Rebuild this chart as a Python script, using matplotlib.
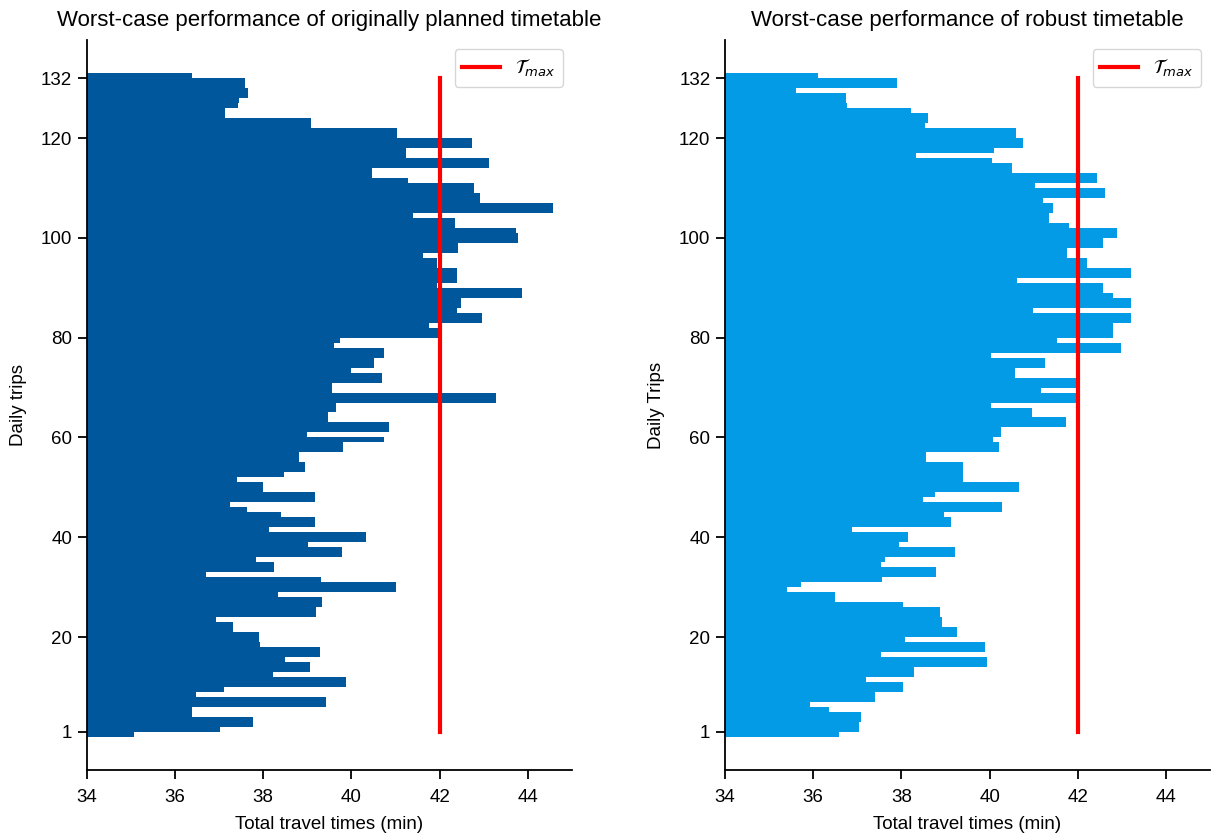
import numpy as np
import matplotlib
matplotlib.use("Agg")
import matplotlib.pyplot as plt

plt.rcParams["font.family"] = ["Liberation Sans", "DejaVu Sans"]

# worst-case total travel time per daily trip (min), bottom to top
planned = [
    35.07, 37.02, 37.77, 37.77, 36.38, 36.38, 39.42, 39.42, 36.48, 37.11,
    39.87, 39.87, 38.22, 39.06, 39.06, 38.49, 39.28, 39.28, 37.92, 37.90,
    37.90, 37.31, 37.31, 36.93, 39.19, 39.19, 39.33, 39.33, 38.33, 41.00,
    41.00, 39.31, 36.70, 38.24, 38.24, 37.83, 39.78, 39.78, 39.01, 40.32,
    40.32, 38.13, 39.17, 39.17, 38.40, 37.63, 37.25, 39.17, 39.17, 37.99,
    37.99, 37.40, 38.47, 38.94, 38.94, 38.81, 38.81, 39.80, 39.80, 40.73,
    38.99, 40.85, 40.85, 39.46, 39.46, 39.65, 39.65, 43.27, 43.27, 39.55,
    39.55, 40.69, 40.69, 39.99, 40.51, 40.51, 40.73, 40.73, 39.60, 39.74,
    42.00, 42.00, 41.75, 42.95, 42.95, 42.39, 42.48, 42.48, 43.86, 43.86,
    41.95, 42.39, 42.39, 42.39, 41.95, 41.95, 41.63, 42.41, 42.41, 43.78,
    43.78, 43.74, 42.34, 42.34, 41.39, 44.56, 44.56, 42.91, 42.91, 42.77,
    42.77, 41.28, 40.46, 40.46, 43.11, 43.11, 41.23, 41.23, 42.73, 42.73,
    41.03, 41.03, 39.08, 39.08, 37.13, 37.13, 37.43, 37.45, 37.65, 37.65,
    37.58, 37.58, 36.38,
]

robust = [
    36.58, 37.04, 37.04, 37.08, 37.08, 36.36, 35.93, 37.40, 37.40, 38.03,
    38.03, 37.20, 38.28, 38.28, 39.94, 39.94, 37.54, 39.89, 39.89, 38.08,
    39.26, 39.26, 38.92, 38.92, 38.87, 38.87, 38.03, 36.49, 36.49, 35.40,
    35.72, 37.56, 38.78, 38.78, 37.54, 37.63, 39.21, 39.21, 37.94, 38.15,
    38.15, 36.88, 39.12, 39.12, 38.96, 40.28, 40.28, 38.49, 38.76, 40.66,
    40.66, 39.39, 39.39, 39.39, 39.39, 38.55, 38.55, 40.21, 40.21, 40.07,
    40.25, 40.25, 41.73, 41.73, 40.96, 40.96, 40.03, 41.95, 41.95, 41.16,
    41.95, 41.95, 40.57, 40.57, 41.25, 41.25, 40.03, 42.97, 42.97, 41.52,
    42.81, 42.81, 42.81, 43.20, 43.20, 40.98, 43.20, 43.20, 42.81, 42.57,
    42.57, 40.62, 43.20, 43.20, 42.20, 42.20, 41.75, 41.75, 42.57, 42.57,
    42.88, 42.88, 41.80, 41.34, 41.34, 41.43, 41.43, 41.21, 42.61, 42.61,
    41.02, 42.43, 42.43, 40.50, 40.50, 40.05, 38.33, 40.10, 40.75, 40.75,
    40.59, 40.59, 38.53, 38.60, 38.60, 38.21, 36.76, 36.74, 36.74, 35.61,
    37.90, 37.90, 36.11,
]

t_max = 42
yticks = [1, 20, 40, 60, 80, 100, 120, 132]
xticks = [34, 36, 38, 40, 42, 44]

fig = plt.figure(figsize=(12.11, 8.4), dpi=100)
ax1 = fig.add_axes([0.0716, 0.0833, 0.4007, 0.8691])
ax2 = fig.add_axes([0.5987, 0.0833, 0.4005, 0.8691])

panels = [
    (ax1, planned, "#01579B", "Worst-case performance of originally planned timetable", "Daily trips"),
    (ax2, robust, "#039BE5", "Worst-case performance of robust timetable", "Daily Trips"),
]

for ax, vals, col, title, ylab in panels:
    idx = np.arange(len(vals))
    ax.barh(idx, vals, height=1, align="edge", color=col, linewidth=0)
    ax.plot([t_max, t_max], [1, 132], color="red", lw=3, label=r"$\mathcal{T}_{max}$")
    ax.set_xlim(34, 45)
    ax.set_xticks(xticks)
    ax.set_yticks(yticks)
    ax.set_title(title, fontsize=16, pad=10)
    ax.set_xlabel("Total travel times (min)", fontsize=13.5, labelpad=7)
    ax.set_ylabel(ylab, fontsize=13.5, labelpad=10)
    ax.tick_params(labelsize=13.5, width=1.3, length=6.5, pad=4)
    ax.tick_params(axis="x", pad=7)
    ax.spines["top"].set_visible(False)
    ax.spines["right"].set_visible(False)
    ax.spines["left"].set_linewidth(1.3)
    ax.spines["bottom"].set_linewidth(1.3)
    ax.legend(loc="upper right", fontsize=13.5)

fig.savefig("out.png", dpi=100)
